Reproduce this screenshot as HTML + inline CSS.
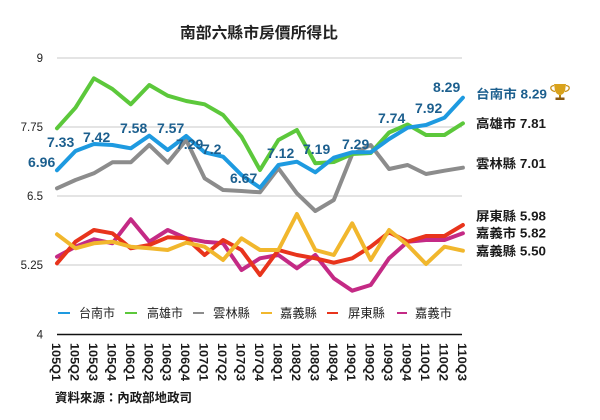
<!DOCTYPE html>
<html><head><meta charset="utf-8"><style>
html,body{margin:0;padding:0;background:#fff;}
svg{display:block;}
text{font-family:"Liberation Sans","Noto Sans CJK TC",sans-serif;}
</style></head><body>
<svg width="600" height="420" viewBox="0 0 600 420" xmlns="http://www.w3.org/2000/svg">
<rect width="600" height="420" fill="#fff"/>
<text x="180" y="38" font-size="15.5" font-weight="bold" fill="#222" textLength="158" lengthAdjust="spacingAndGlyphs">南部六縣市房價所得比</text>
<g stroke="#d4d4d4" stroke-width="1.2">
<line x1="57" y1="58" x2="462" y2="58"/>
<line x1="57" y1="127" x2="462" y2="127"/>
<line x1="57" y1="196" x2="462" y2="196"/>
<line x1="57" y1="265" x2="462" y2="265"/>
</g>
<line x1="57" y1="334.5" x2="462" y2="334.5" stroke="#111" stroke-width="1.5"/>
<g font-size="11.5" fill="#222" text-anchor="end">
<text x="43" y="62">9</text>
<text x="43" y="131">7.75</text>
<text x="43" y="200">6.5</text>
<text x="43" y="269">5.25</text>
<text x="43" y="338.5">4</text>
</g>
<g fill="none" stroke-width="4" stroke-linejoin="round" stroke-linecap="round">
<polyline stroke="#c42a85" points="57,256.7 75.5,246.7 93.9,239.3 112.4,243.3 130.8,219.3 149.3,241.7 167.7,230 186.2,238.3 204.6,241.7 223.1,243.3 241.5,270 260,258.3 278.4,255 296.9,268.3 315.3,255 333.8,278.3 352.2,290.7 370.7,285 389.1,258.3 407.6,241.7 426,240 444.5,240 462.9,233.3"/>
<polyline stroke="#e8341c" points="57,263.3 75.5,241.7 93.9,230 112.4,233.3 130.8,248.3 149.3,245 167.7,237.3 186.2,238.3 204.6,255 223.1,240 241.5,250 260,275 278.4,250 296.9,255 315.3,258.3 333.8,262.7 352.2,258.3 370.7,246.7 389.1,232.3 407.6,241.7 426,236 444.5,236 462.9,225"/>
<polyline stroke="#f1b72d" points="57,234.3 75.5,248.3 93.9,243.3 112.4,241.7 130.8,246.7 149.3,248.3 167.7,250 186.2,242.7 204.6,246.7 223.1,260 241.5,238.3 260,250 278.4,250 296.9,214 315.3,250 333.8,255 352.2,223.3 370.7,260 389.1,230 407.6,245 426,264 444.5,246.7 462.9,250.7"/>
<polyline stroke="#8c8c8c" points="57,188.3 75.5,180 93.9,173.3 112.4,162.3 130.8,162.3 149.3,145 167.7,162.7 186.2,140 204.6,178.3 223.1,190 241.5,191 260,192.3 278.4,168.3 296.9,193.3 315.3,211 333.8,200 352.2,154.3 370.7,145 389.1,169 407.6,165 426,174 444.5,170.7 462.9,167.7"/>
<polyline stroke="#5cc83b" points="57,128.3 75.5,107.7 93.9,78.3 112.4,89 130.8,104.3 149.3,85 167.7,95.7 186.2,101 204.6,104.3 223.1,115 241.5,136.7 260,170 278.4,140 296.9,130 315.3,163.3 333.8,162 352.2,154 370.7,153 389.1,132.5 407.6,124.5 426,135 444.5,135 462.9,123.3"/>
<polyline stroke="#1e9ae0" points="57,170.3 75.5,151 93.9,144 112.4,145 130.8,148.3 149.3,135.7 167.7,150 186.2,136 204.6,152.3 223.1,156.7 241.5,175 260,187.7 278.4,165 296.9,161.7 315.3,172.3 333.8,157.7 352.2,152.3 370.7,152.3 389.1,139 407.6,127.7 426,125 444.5,117.7 462.9,97.7"/>
</g>
<g font-size="14" font-weight="bold" fill="#1c5f8e">
<text x="28" y="167">6.96</text>
<text x="47" y="147">7.33</text>
<text x="83" y="142">7.42</text>
<text x="120" y="133">7.58</text>
<text x="157" y="133">7.57</text>
<text x="176" y="149">7.29</text>
<text x="202" y="154">7.2</text>
<text x="230" y="183">6.67</text>
<text x="267" y="158">7.12</text>
<text x="303" y="154">7.19</text>
<text x="342" y="149">7.29</text>
<text x="378" y="123">7.74</text>
<text x="415" y="113">7.92</text>
<text x="433" y="92">8.29</text>
</g>
<g font-size="12.5" font-weight="bold" fill="#1a1a1a">
<text x="476" y="98.5" fill="#1c5f8e" textLength="71" lengthAdjust="spacingAndGlyphs">台南市 8.29</text>
<text x="476" y="128" textLength="70" lengthAdjust="spacingAndGlyphs">高雄市 7.81</text>
<text x="476" y="168" textLength="70" lengthAdjust="spacingAndGlyphs">雲林縣 7.01</text>
<text x="476" y="220.5" textLength="70" lengthAdjust="spacingAndGlyphs">屏東縣 5.98</text>
<text x="476" y="237.5" textLength="70" lengthAdjust="spacingAndGlyphs">嘉義市 5.82</text>
<text x="476" y="255.5" textLength="70" lengthAdjust="spacingAndGlyphs">嘉義縣 5.50</text>
</g>
<g>
<path d="M554,84 L566,84 L565,91 Q563,95 560,95 Q557,95 555,91 Z" fill="#d9a21c"/>
<path d="M554,85.5 Q550,86 551,89 Q552,91 555,91.5" fill="none" stroke="#c8901a" stroke-width="1.3"/>
<path d="M566,85.5 Q570,86 569,89 Q568,91 565,91.5" fill="none" stroke="#c8901a" stroke-width="1.3"/>
<rect x="559" y="95" width="2" height="2.5" fill="#b8860b"/>
<rect x="555.5" y="97.5" width="9" height="2.5" fill="#8a5a14"/>
</g>
<g stroke-width="2">
<line x1="58" y1="313" x2="70" y2="313" stroke="#1e9ae0"/>
<line x1="125" y1="313" x2="137" y2="313" stroke="#5cc83b"/>
<line x1="193" y1="313" x2="204" y2="313" stroke="#8c8c8c"/>
<line x1="261" y1="313" x2="272" y2="313" stroke="#f1b72d"/>
<line x1="327" y1="313" x2="338" y2="313" stroke="#e8341c"/>
<line x1="397" y1="313" x2="407" y2="313" stroke="#c42a85"/>
</g>
<g font-size="12.5" fill="#222">
<text x="79" y="317.5" textLength="36" lengthAdjust="spacingAndGlyphs">台南市</text>
<text x="147" y="317.5" textLength="36" lengthAdjust="spacingAndGlyphs">高雄市</text>
<text x="213" y="317.5" textLength="37" lengthAdjust="spacingAndGlyphs">雲林縣</text>
<text x="280" y="317.5" textLength="37" lengthAdjust="spacingAndGlyphs">嘉義縣</text>
<text x="348" y="317.5" textLength="37" lengthAdjust="spacingAndGlyphs">屏東縣</text>
<text x="415" y="317.5" textLength="37" lengthAdjust="spacingAndGlyphs">嘉義市</text>
</g>
<g font-size="11.5" font-weight="bold" fill="#1a1a1a">
<text transform="translate(56,343) rotate(90)" dy="4" textLength="38" lengthAdjust="spacingAndGlyphs">105Q1</text>
<text transform="translate(74.5,343) rotate(90)" dy="4" textLength="38" lengthAdjust="spacingAndGlyphs">105Q2</text>
<text transform="translate(92.9,343) rotate(90)" dy="4" textLength="38" lengthAdjust="spacingAndGlyphs">105Q3</text>
<text transform="translate(111.4,343) rotate(90)" dy="4" textLength="38" lengthAdjust="spacingAndGlyphs">105Q4</text>
<text transform="translate(129.8,343) rotate(90)" dy="4" textLength="38" lengthAdjust="spacingAndGlyphs">106Q1</text>
<text transform="translate(148.3,343) rotate(90)" dy="4" textLength="38" lengthAdjust="spacingAndGlyphs">106Q2</text>
<text transform="translate(166.7,343) rotate(90)" dy="4" textLength="38" lengthAdjust="spacingAndGlyphs">106Q3</text>
<text transform="translate(185.2,343) rotate(90)" dy="4" textLength="38" lengthAdjust="spacingAndGlyphs">106Q4</text>
<text transform="translate(203.6,343) rotate(90)" dy="4" textLength="38" lengthAdjust="spacingAndGlyphs">107Q1</text>
<text transform="translate(222.1,343) rotate(90)" dy="4" textLength="38" lengthAdjust="spacingAndGlyphs">107Q2</text>
<text transform="translate(240.5,343) rotate(90)" dy="4" textLength="38" lengthAdjust="spacingAndGlyphs">107Q3</text>
<text transform="translate(259,343) rotate(90)" dy="4" textLength="38" lengthAdjust="spacingAndGlyphs">107Q4</text>
<text transform="translate(277.4,343) rotate(90)" dy="4" textLength="38" lengthAdjust="spacingAndGlyphs">108Q1</text>
<text transform="translate(295.9,343) rotate(90)" dy="4" textLength="38" lengthAdjust="spacingAndGlyphs">108Q2</text>
<text transform="translate(314.3,343) rotate(90)" dy="4" textLength="38" lengthAdjust="spacingAndGlyphs">108Q3</text>
<text transform="translate(332.8,343) rotate(90)" dy="4" textLength="38" lengthAdjust="spacingAndGlyphs">108Q4</text>
<text transform="translate(351.2,343) rotate(90)" dy="4" textLength="38" lengthAdjust="spacingAndGlyphs">109Q1</text>
<text transform="translate(369.7,343) rotate(90)" dy="4" textLength="38" lengthAdjust="spacingAndGlyphs">109Q2</text>
<text transform="translate(388.1,343) rotate(90)" dy="4" textLength="38" lengthAdjust="spacingAndGlyphs">109Q3</text>
<text transform="translate(406.6,343) rotate(90)" dy="4" textLength="38" lengthAdjust="spacingAndGlyphs">109Q4</text>
<text transform="translate(425,343) rotate(90)" dy="4" textLength="38" lengthAdjust="spacingAndGlyphs">110Q1</text>
<text transform="translate(443.5,343) rotate(90)" dy="4" textLength="38" lengthAdjust="spacingAndGlyphs">110Q2</text>
<text transform="translate(461.9,343) rotate(90)" dy="4" textLength="38" lengthAdjust="spacingAndGlyphs">110Q3</text>
</g>
<text x="55" y="402" font-size="12.5" font-weight="bold" fill="#1a1a1a" textLength="137" lengthAdjust="spacingAndGlyphs">資料來源：內政部地政司</text>
</svg>
</body></html>
